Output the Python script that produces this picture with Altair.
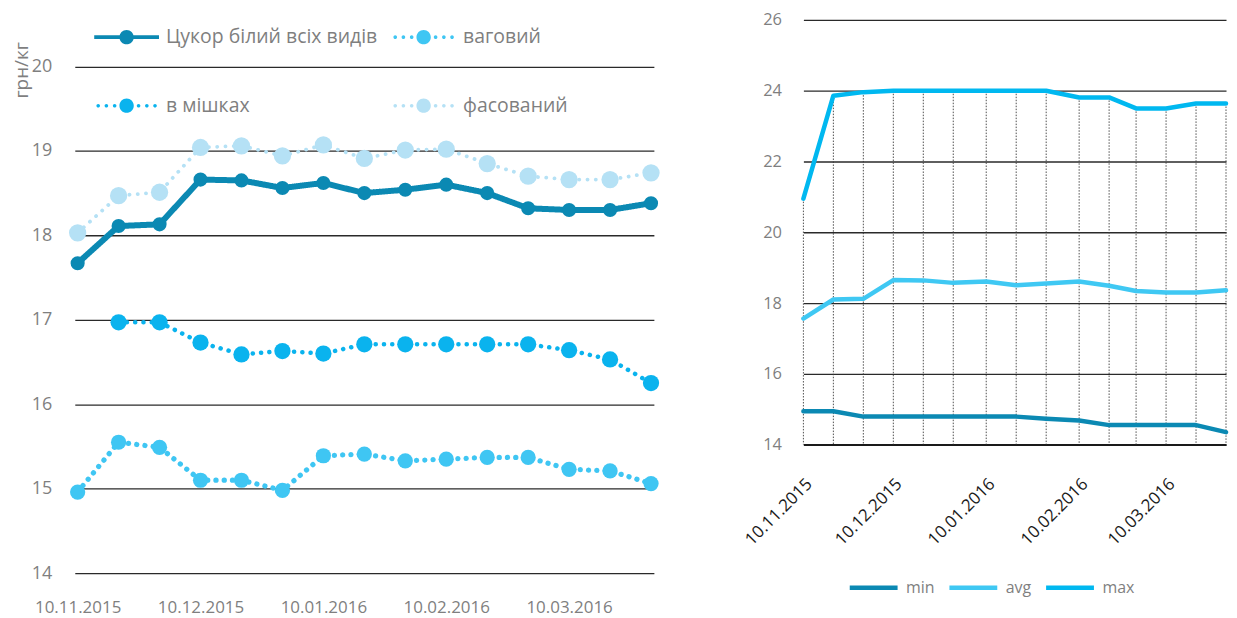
import altair as alt
import pandas as pd

# ---------------- data ----------------
dates = ["10.11.2015", "20.11.2015", "30.11.2015", "10.12.2015", "20.12.2015",
         "30.12.2015", "10.01.2016", "20.01.2016", "30.01.2016", "10.02.2016",
         "20.02.2016", "29.02.2016", "10.03.2016", "20.03.2016", "30.03.2016"]

series_names = ["Цукор білий всіх видів", "ваговий", "в мішках", "фасований"]
sugar_all = [17.67, 18.11, 18.13, 18.66, 18.65, 18.56, 18.62, 18.50, 18.54, 18.60,
             18.50, 18.32, 18.30, 18.30, 18.38]
vagovyi = [14.96, 15.55, 15.49, 15.10, 15.10, 14.98, 15.39, 15.41, 15.33, 15.35,
           15.37, 15.37, 15.23, 15.21, 15.06]
v_mishkah = [None, 16.97, 16.97, 16.73, 16.59, 16.63, 16.60, 16.71, 16.71, 16.71,
             16.71, 16.71, 16.64, 16.53, 16.25]
fasovanyi = [18.03, 18.47, 18.51, 19.04, 19.06, 18.94, 19.07, 18.91, 19.01, 19.02,
             18.85, 18.70, 18.66, 18.66, 18.74]

range_names = ["min", "avg", "max"]
price_min = [14.94, 14.94, 14.79, 14.79, 14.79, 14.79, 14.79, 14.79, 14.73, 14.68,
             14.55, 14.55, 14.55, 14.55, 14.35]
price_avg = [17.56, 18.10, 18.12, 18.65, 18.64, 18.57, 18.61, 18.50, 18.55, 18.61,
             18.49, 18.34, 18.30, 18.30, 18.36]
price_max = [20.95, 23.86, 23.96, 24.0, 24.0, 24.0, 24.0, 24.0, 24.0, 23.81,
             23.81, 23.50, 23.50, 23.64, 23.64]

left_y_ticks = [14, 15, 16, 17, 18, 19, 20]
right_y_ticks = [14, 16, 18, 20, 22, 24, 26]
label_every = 3

# ---------------- style ----------------
FONT = "Open Sans"
GRAY = "#7f7f7f"
GRID = "#2a2a2a"
left_colors = ["#0b89b3", "#3fc6f3", "#0ab3ee", "#b5e1f5"]
left_dash = [[1, 0], [0.1, 8.2], [0.1, 8.2], [0.1, 8.2]]
left_widths = [6, 3.8, 3.8, 3.8]
left_sizes = [200, 300, 140, 160]
right_colors = ["#0b89b3", "#3fc8f3", "#00b8f0"]

# legend glyphs (line + marker), drawn in units of 15 px (symbolSize 900)
U = 15.0


def circ(cx, r):
    cx, r = cx / U, r / U
    return (f"M{cx + r:.4f},0A{r:.4f},{r:.4f},0,1,1,{cx - r:.4f},0"
            f"A{r:.4f},{r:.4f},0,1,1,{cx + r:.4f},0Z")


half = 32.5 / U
thick = 1.8 / U
solid_sym = f"M{-half:.4f},{-thick:.4f}H{half:.4f}V{thick:.4f}H{-half:.4f}Z" + circ(0, 7.2)
dot_sym = "".join(circ(c, 1.8) for c in (-28.5, -20.3, -12.0, 12.0, 20.3, 28.5)) + circ(0, 7.2)
legend_shapes = [solid_sym, dot_sym, dot_sym, dot_sym]

# legend entries are laid out column by column (2 columns): position of each series
legend_pos = [0, 2, 1, 3]
legend_keys = [f"{p}|{n}" for p, n in zip(legend_pos, series_names)]
legend_values = sorted(legend_keys)

# ---------------- tables ----------------
rows = []
for key, name, vals in zip(legend_keys, series_names, [sugar_all, vagovyi, v_mishkah, fasovanyi]):
    for d, v in zip(dates, vals):
        if v is not None:
            rows.append({"date": d, "series": name, "series_m": key, "value": v})
df_left = pd.DataFrame(rows)


def iso(d):
    dd, mm, yy = d.split(".")
    return f"{yy}-{mm}-{dd}"


rows = []
for name, vals in zip(range_names, [price_min, price_avg, price_max]):
    for d, v in zip(dates, vals):
        rows.append({"date": iso(d), "series": name, "value": v})
df_right = pd.DataFrame(rows)
df_drop = df_right[df_right["series"] == "max"]

# ---------------- left chart ----------------
LW, LH = 581, 555
leg_left = alt.Legend(title=None, orient="none", legendX=37, legendY=2, columns=2,
                      values=legend_values, labelExpr="split(datum.label, '|')[1]",
                      symbolSize=900, symbolStrokeWidth=0, symbolOpacity=1,
                      labelFont=FONT, labelFontSize=19.5, labelColor=GRAY,
                      labelOffset=24.5, columnPadding=15, rowPadding=44, padding=0,
                      labelLimit=400)

x_left = alt.X("date:N", sort=dates,
               scale=alt.Scale(type="point", padding=0.07),
               axis=alt.Axis(values=dates[::label_every], title=None, labelAngle=0,
                             ticks=False, domain=False, grid=False,
                             labelFont=FONT, labelFontSize=17, labelColor=GRAY,
                             labelPadding=26))
y_left = alt.Y("value:Q",
               scale=alt.Scale(domain=[14, 20.55], nice=False, zero=False),
               axis=alt.Axis(values=left_y_ticks, title="грн/кг", ticks=False, domain=False,
                             grid=True, gridColor=GRID, gridWidth=1.3,
                             labelFont=FONT, labelFontSize=18, labelColor=GRAY,
                             labelPadding=23,
                             titleFont=FONT, titleFontSize=19, titleColor=GRAY,
                             titleFontWeight="normal", titleAngle=-90,
                             titleX=-62, titleY=50, titleAlign="center",
                             titleBaseline="top"))

lines_left = alt.Chart(df_left).mark_line(strokeJoin="round", strokeCap="round").encode(
    x=x_left, y=y_left,
    color=alt.Color("series:N", scale=alt.Scale(domain=series_names, range=left_colors), legend=None),
    strokeDash=alt.StrokeDash("series:N", scale=alt.Scale(domain=series_names, range=left_dash), legend=None),
    strokeWidth=alt.StrokeWidth("series:N", scale=alt.Scale(domain=series_names, range=left_widths), legend=None),
)
points_left = alt.Chart(df_left).mark_point(filled=True, opacity=1).encode(
    x=x_left, y=y_left,
    color=alt.Color("series:N", scale=alt.Scale(domain=series_names, range=left_colors), legend=None),
    size=alt.Size("series:N", scale=alt.Scale(domain=series_names, range=left_sizes), legend=None),
)
# carries only the legend (its own marks are fully transparent)
legend_left = alt.Chart(df_left).mark_point(filled=True).encode(
    x=x_left, y=y_left,
    fill=alt.Fill("series_m:N", scale=alt.Scale(domain=legend_keys, range=left_colors), legend=leg_left),
    shape=alt.Shape("series_m:N", scale=alt.Scale(domain=legend_keys, range=legend_shapes), legend=leg_left),
    opacity=alt.value(0),
)
left = alt.layer(legend_left, lines_left, points_left).properties(width=LW, height=LH)

# ---------------- right chart ----------------
RW, RH = 424, 426
x_vals = [alt.DateTime(year=int(d[6:]), month=int(d[3:5]), date=int(d[:2]), utc=True)
          for d in dates[::label_every]]
x_dom = [alt.DateTime(year=int(d[6:]), month=int(d[3:5]), date=int(d[:2]), utc=True)
         for d in (dates[0], dates[-1])]
x_right = alt.X("date:T", scale=alt.Scale(type="utc", domain=x_dom, nice=False),
                axis=alt.Axis(values=x_vals, format="%d.%m.%Y", title=None, labelAngle=-45,
                              ticks=False, grid=False, domain=True, domainColor="#1a1a1a",
                              domainWidth=2, labelFont=FONT, labelFontSize=17,
                              labelColor="#1a1a1a", labelPadding=31))
y_right = alt.Y("value:Q", scale=alt.Scale(domain=[14, 26], nice=False, zero=False),
                axis=alt.Axis(values=right_y_ticks, title=None, ticks=False, domain=False,
                              grid=True, gridColor=GRID, gridWidth=1.3,
                              labelFont=FONT, labelFontSize=16.5, labelColor=GRAY,
                              labelPadding=22))

drops = alt.Chart(df_drop).mark_rule(color="#3a3a3a", strokeWidth=0.9, strokeDash=[1.5, 1.5]).encode(
    x=x_right, y=y_right, y2=alt.datum(14)
)
lines_right = alt.Chart(df_right).mark_line(strokeWidth=4.5, strokeCap="round", strokeJoin="round").encode(
    x=x_right, y=y_right,
    color=alt.Color("series:N", scale=alt.Scale(domain=range_names, range=right_colors),
                    legend=alt.Legend(title=None, orient="none", legendX=44, legendY=543,
                                      direction="horizontal", symbolType="stroke",
                                      symbolSize=2304, symbolStrokeWidth=4.5,
                                      labelFont=FONT, labelFontSize=16, labelColor=GRAY,
                                      labelOffset=6, columnPadding=5, padding=0)),
)
right = alt.layer(drops, lines_right).properties(width=RW, height=RH)

chart = alt.hconcat(left, right, spacing=80).resolve_scale(
    color="independent", fill="independent", shape="independent"
).resolve_legend(
    color="independent", fill="independent", shape="independent"
).properties(
    padding={"top": 2, "left": 4, "right": 0, "bottom": 0}
).configure(
    font=FONT, view=alt.ViewConfig(stroke="transparent")
)

chart.save("out.html", embed_options={"renderer": "svg", "actions": False})
